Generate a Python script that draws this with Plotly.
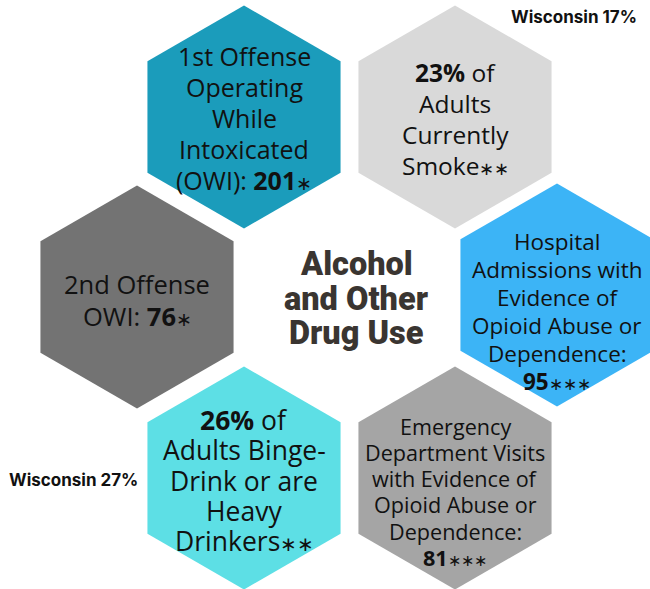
"""
Infográfico hexagonal: uso de álcool e outras drogas
"""

import math
import plotly.graph_objects as go

STAR = '<span style="font-size:{s}px">∗</span>'

# dados (uma lista de linhas por hexágono; {st} = asterisco)
owi_first = ["1st Offense", "Operating", "While", "Intoxicated", "(OWI): <b>201</b>{st}"]
adult_smoke = ["<b>23%</b> of", "Adults", "Currently", "Smoke{st}{st}"]
owi_second = ["2nd Offense", "OWI: <b>76</b>{st}"]
hosp_opioid = ["Hospital", "Admissions with", "Evidence of", "Opioid Abuse or",
               "Dependence:", "<b>95</b>{st}{st}{st}"]
binge_drink = ["<b>26%</b> of", "Adults Binge-", "Drink or are", "Heavy", "Drinkers{st}{st}"]
ed_opioid = ["Emergency", "Department Visits", "with Evidence of", "Opioid Abuse or",
             "Dependence:", "<b>81</b>{st}{st}{st}"]
state_notes = ["Wisconsin 17%", "Wisconsin 27%"]
title_lines = ["Alcohol", "and Other", "Drug Use"]

# layout: (linhas, centro x, centro y, cor, fonte, y da 1a linha, espaçamento)
hexes = [
    (owi_first, 244, 117, "#1b9cbb", 25, 56, 31),
    (adult_smoke, 455, 117, "#d9d9d9", 24.5, 72, 31),
    (owi_second, 137, 297, "#737373", 25.5, 284, 32),
    (hosp_opioid, 557, 295, "#3cb4f6", 22.5, 241, 28),
    (binge_drink, 244, 478, "#5ddfe5", 26.5, 420, 30.3),
    (ed_opioid, 455, 478, "#a5a5a5", 21.6, 426, 26.3),
]
R = 111.5

fig = go.Figure()

for lines, cx, cy, color, fs, y0, step in hexes:
    xs, ys = [], []
    for k in range(7):
        a = math.radians(90 + 60 * k)
        xs.append(cx + R * math.cos(a))
        ys.append(cy + R * math.sin(a))
    fig.add_trace(go.Scatter(
        x=xs, y=ys, mode="lines", fill="toself",
        fillcolor=color, line=dict(width=0), hoverinfo="skip",
        showlegend=False
    ))
    for i, ln in enumerate(lines):
        fig.add_annotation(
            x=cx, y=y0 + i * step,
            text=ln.format(st=STAR.format(s=round(fs * 0.75))),
            showarrow=False,
            font=dict(family="Open Sans, sans-serif", size=fs, color="#111111"),
            xanchor="center", yanchor="middle"
        )

# título central
for i, ln in enumerate(title_lines):
    fig.add_annotation(
        x=356, y=264 + i * 34.5, text=ln, showarrow=False,
        font=dict(family="Roboto, sans-serif", size=32.5, color="#3a3531", weight=900),
        xanchor="center", yanchor="middle"
    )

# notas de Wisconsin
for (x, y), note in zip([(574, 17), (73, 480)], state_notes):
    fig.add_annotation(
        x=x, y=y, text=f"<b>{note}</b>", showarrow=False,
        font=dict(family="Inter, sans-serif", size=17, color="#111111"),
        xanchor="center", yanchor="middle"
    )

fig.update_layout(
    width=650, height=589,
    margin=dict(l=0, r=0, t=0, b=0),
    plot_bgcolor="white", paper_bgcolor="white",
    xaxis=dict(range=[0, 650], visible=False, fixedrange=True),
    yaxis=dict(range=[589, 0], visible=False, fixedrange=True),
)

fig.write_html("out.html", config={"displayModeBar": False},
               post_script="document.body.style.margin='0';")
